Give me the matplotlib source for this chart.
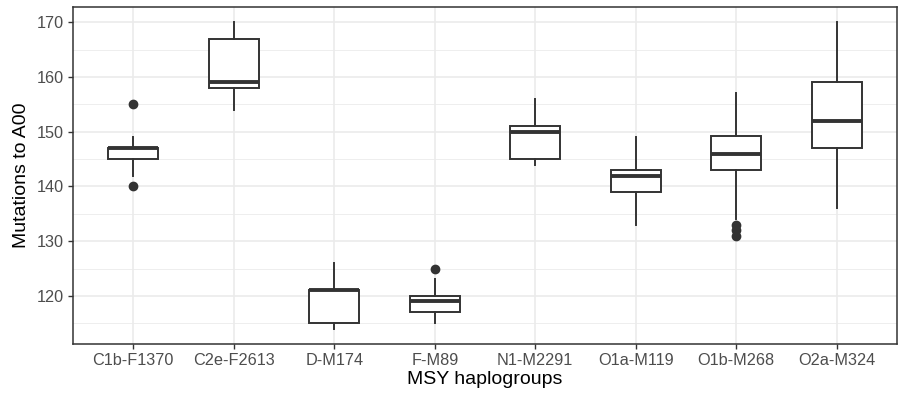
import matplotlib
matplotlib.use("Agg")
import matplotlib.pyplot as plt
from matplotlib.ticker import MultipleLocator

# haplogroups and box statistics
groups = ["C1b-F1370", "C2e-F2613", "D-M174", "F-M89",
          "N1-M2291", "O1a-M119", "O1b-M268", "O2a-M324"]
whislo = [142, 154, 114, 115, 144, 133, 134, 136]
q1 = [145, 158, 115, 117, 145, 139, 143, 147]
med = [147, 159, 121, 119, 150, 142, 146, 152]
q3 = [147, 167, 121, 120, 151, 143, 149.3, 159]
whishi = [149, 170, 126, 123, 156, 149, 157, 170]
fliers = [[140, 155], [], [], [125], [], [], [131, 132, 133], []]

plt.rcParams["font.family"] = ["Liberation Sans", "DejaVu Sans"]

fig = plt.figure(figsize=(8.99, 4.03), dpi=100)
ax = fig.add_axes([73 / 899, 59 / 403, 824 / 899, 337 / 403])

stats = []
for i, g in enumerate(groups):
    stats.append(dict(label=g, whislo=whislo[i], q1=q1[i], med=med[i],
                      q3=q3[i], whishi=whishi[i], fliers=fliers[i]))

dark = "#333333"
ax.bxp(stats, positions=range(len(groups)), widths=0.5,
       showcaps=False, patch_artist=True,
       boxprops=dict(facecolor="white", edgecolor=dark, linewidth=1.4),
       medianprops=dict(color=dark, linewidth=2.8, solid_capstyle="butt"),
       whiskerprops=dict(color=dark, linewidth=1.4),
       flierprops=dict(marker="o", markerfacecolor=dark, markeredgecolor=dark,
                       markersize=6),
       zorder=3)

ax.set_xlim(-0.6, len(groups) - 0.4)
ax.set_ylim(111.2, 172.8)
ax.yaxis.set_major_locator(MultipleLocator(10))
ax.yaxis.set_minor_locator(MultipleLocator(5))
ax.set_xticks(range(len(groups)))
ax.set_xticklabels(groups)

ax.grid(True, which="major", color="#EBEBEB", linewidth=1.2, zorder=0)
ax.grid(True, which="minor", axis="y", color="#EBEBEB", linewidth=0.6, zorder=0)
ax.set_axisbelow(True)
for s in ax.spines.values():
    s.set_color(dark)
    s.set_linewidth(1.1)

ax.tick_params(axis="both", which="major", length=3.5, width=1.0, color=dark,
               labelcolor="#4D4D4D", labelsize=11.7, pad=3)
ax.tick_params(axis="y", which="minor", length=0)

ax.set_xlabel("MSY haplogroups", fontsize=14, labelpad=2)
ax.set_ylabel("Mutations to A00", fontsize=14, labelpad=5)

fig.savefig("out.png", dpi=100)
